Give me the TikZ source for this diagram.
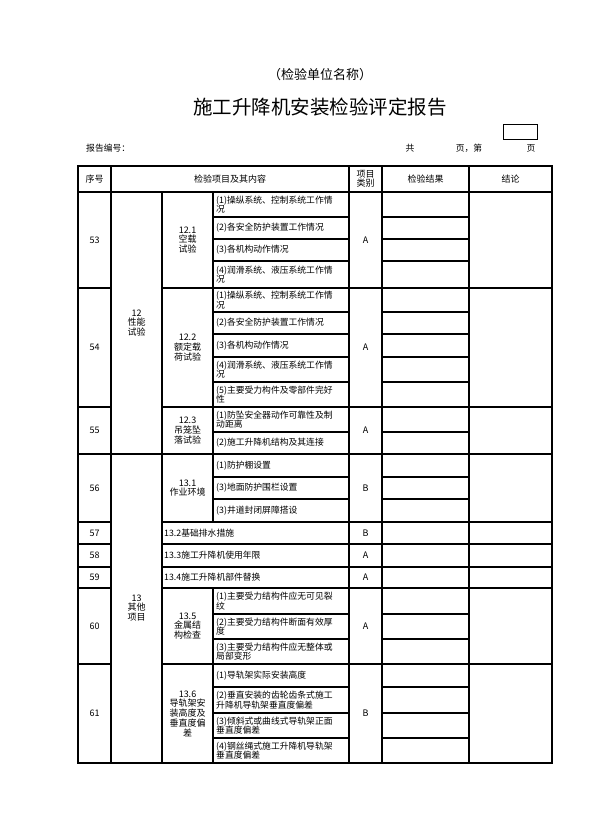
\documentclass[tikz,border=0pt]{standalone}
\usepackage{fontspec}
\newfontfamily\cjk{Noto Sans CJK SC}
\usetikzlibrary{positioning}
\tikzset{
  grid line/.style={line width=1.1pt},
  cell/.style={
    font=\cjk\fontsize{9}{9.8}\selectfont,
    inner sep=0pt,
    align=center
  },
  item/.style={
    font=\cjk\fontsize{8.8}{9.6}\selectfont,
    inner sep=0pt,
    align=left,
    anchor=west
  },
  head/.style={font=\cjk\fontsize{9}{9.5}\selectfont,inner sep=0pt,align=center},
  top text/.style={font=\cjk\fontsize{8.8}{10}\selectfont,inner sep=0pt}
}

\begin{document}
\begin{tikzpicture}[x=1pt,y=-1pt]
\useasboundingbox (0,0) rectangle (590,835);
% titles
\node[font=\cjk\fontsize{13}{14}\selectfont,inner sep=0pt] (unit)  at (320,75)  {（检验单位名称）};
\node[font=\cjk\fontsize{19.5}{22}\selectfont,inner sep=0pt] (title) at (320,107) {施工升降机安装检验评定报告};
\draw[line width=0.9pt] (503,124) rectangle (537,139);
\node[top text,anchor=west] (repno) at (86,148)  {报告编号：};
\node[top text]             (total) at (410,148) {共};
\node[top text]             (pgof)  at (469,148) {页，第};
\node[top text]             (pg)    at (531,148) {页};

% table frame
\draw[grid line] (78,166) rectangle (552,763);
\foreach \x in {111,349,382,469}
  \draw[grid line] (\x,166) -- (\x,763);
\draw[grid line] (162,192) -- (162,763);
\draw[grid line] (213,192) -- (213,522);
\draw[grid line] (213,588) -- (213,763);
\draw[grid line] (78,192) -- (552,192);
\draw[grid line] (78,454) -- (552,454);
\foreach \y in {288,407,522,544,567,588,664}{
  \draw[grid line] (78,\y) -- (111,\y);
  \draw[grid line] (162,\y) -- (552,\y);
}
\foreach \y in {217,239,261,312,334,357,382,432,477,499,614,639,687,713,738}{
  \draw[grid line] (213,\y) -- (349,\y);
  \draw[grid line] (382,\y) -- (469,\y);
}

% header
\node[head] (hno)   at (94.5,179)  {序号};
\node[head] (hitem) at (230,179)   {检验项目及其内容};
\node[head] (hcat)  at (365.5,179) {项目\\类别};
\node[head] (hres)  at (425.5,179) {检验结果};
\node[head] (hcon)  at (510.5,179) {结论};

% sequence numbers and categories
\foreach \n/\y/\c in {53/240/A,54/347.5/A,55/430.5/A,56/488/B,57/533/B,58/555.5/A,59/577.5/A,60/626/A,61/713.5/B}{
  \node[cell] (no\n)  at (94.5,\y)  {\n};
  \node[cell] (cat\n) at (365.5,\y) {\c};
}

% groups
\node[cell] (g12) at (136.5,323) {12\\性能\\试验};
\node[cell] (g13) at (136.5,608) {13\\其他\\项目};
\node[cell] (s121) at (187.5,240)   {12.1\\空载\\试验};
\node[cell] (s122) at (187.5,347.5) {12.2\\额定载\\荷试验};
\node[cell] (s123) at (187.5,430.5) {12.3\\吊笼坠\\落试验};
\node[cell] (s131) at (187.5,488)   {13.1\\作业环境};
\node[cell] (s135) at (187.5,626)   {13.5\\金属结\\构检查};
\node[cell] (s136) at (187.5,713.5) {13.6\\导轨架安\\装高度及\\垂直度偏\\差};
\node[item] (s132) at (164,533)   {13.2基础排水措施};
\node[item] (s133) at (164,555.5) {13.3施工升降机使用年限};
\node[item] (s134) at (164,577.5) {13.4施工升降机部件替换};

% items
\node[item] (i53a) at (216,204.5) {(1)操纵系统、控制系统工作情\\况};
\node[item] (i53b) at (216,228)   {(2)各安全防护装置工作情况};
\node[item] (i53c) at (216,250)   {(3)各机构动作情况};
\node[item] (i53d) at (216,274.5) {(4)润滑系统、液压系统工作情\\况};
\node[item] (i54a) at (216,300)   {(1)操纵系统、控制系统工作情\\况};
\node[item] (i54b) at (216,323)   {(2)各安全防护装置工作情况};
\node[item] (i54c) at (216,345.5) {(3)各机构动作情况};
\node[item] (i54d) at (216,369.5) {(4)润滑系统、液压系统工作情\\况};
\node[item] (i54e) at (216,394.5) {(5)主要受力构件及零部件完好\\性};
\node[item] (i55a) at (216,419.5) {(1)防坠安全器动作可靠性及制\\动距离};
\node[item] (i55b) at (216,443)   {(2)施工升降机结构及其连接};
\node[item] (i56a) at (216,465.5) {(1)防护棚设置};
\node[item] (i56b) at (216,488)   {(3)地面防护围栏设置};
\node[item] (i56c) at (216,510.5) {(3)井道封闭屏障搭设};
\node[item] (i60a) at (216,601)   {(1)主要受力结构件应无可见裂\\纹};
\node[item] (i60b) at (216,626.5) {(2)主要受力结构件断面有效厚\\度};
\node[item] (i60c) at (216,651.5) {(3)主要受力结构件应无整体或\\局部变形};
\node[item] (i61a) at (216,675.5) {(1)导轨架实际安装高度};
\node[item] (i61b) at (216,700)   {(2)垂直安装的齿轮齿条式施工\\升降机导轨架垂直度偏差};
\node[item] (i61c) at (216,725.5) {(3)倾斜式或曲线式导轨架正面\\垂直度偏差};
\node[item] (i61d) at (216,750.5) {(4)钢丝绳式施工升降机导轨架\\垂直度偏差};
\end{tikzpicture}
\end{document}
